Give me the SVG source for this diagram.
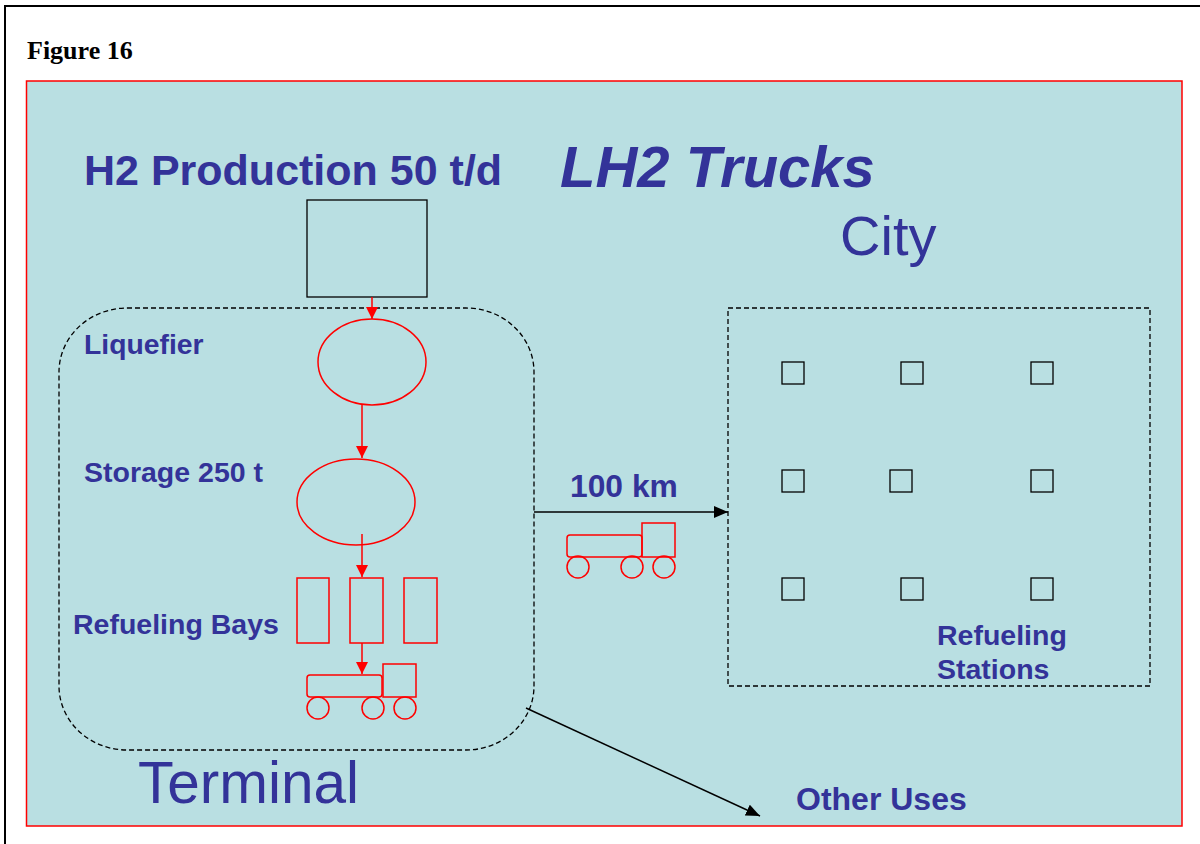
<svg xmlns="http://www.w3.org/2000/svg" width="1200" height="844" viewBox="0 0 1200 844">
<defs>
<style>
.lbl{font-family:"Liberation Sans",Arial,sans-serif;font-weight:bold;fill:#333399}
.big{font-family:"Liberation Sans",Arial,sans-serif;fill:#333399}
.red{fill:none;stroke:#FF0000;stroke-width:1.5}
.sq{fill:none;stroke:#000;stroke-width:1.3}
.dash{fill:none;stroke:#000;stroke-width:1.3;stroke-dasharray:5,3}
</style>
<marker id="ar" viewBox="0 0 12 12" refX="12" refY="6" markerWidth="12" markerHeight="12" markerUnits="userSpaceOnUse" orient="auto">
<path d="M0,0 L12,6 L0,12 Z" fill="#FF0000"/>
</marker>
<marker id="ab" viewBox="0 0 14 12" refX="14" refY="6" markerWidth="14" markerHeight="12" markerUnits="userSpaceOnUse" orient="auto">
<path d="M0,0 L14,6 L0,12 Z" fill="#000"/>
</marker>
</defs>
<rect x="0" y="0" width="1200" height="844" fill="#fff"/>
<rect x="5" y="6" width="1210" height="860" fill="none" stroke="#000" stroke-width="2"/>
<text x="27" y="59" font-family="Liberation Serif,'Times New Roman',serif" font-weight="bold" font-size="26" fill="#000">Figure 16</text>
<rect x="26.5" y="81" width="1155.5" height="745" fill="#B9DFE2" stroke="#FF0000" stroke-width="1.5"/>

<text class="lbl" x="84" y="185" font-size="43">H2 Production 50 t/d</text>
<text class="lbl" x="560" y="187" font-size="58" font-style="italic">LH2 Trucks</text>
<text class="big" x="840" y="255" font-size="56">City</text>

<g id="terminal">
<rect class="dash" x="59" y="308" width="475" height="442" rx="68" ry="64"/>
<text class="big" x="138" y="803" font-size="58.5">Terminal</text>
</g>

<g id="production">
<rect class="sq" x="307" y="200" width="120" height="97"/>
</g>
<g id="liquefier">
<ellipse class="red" cx="372" cy="362" rx="54" ry="43"/>
<text class="lbl" x="84" y="354" font-size="28.3">Liquefier</text>
</g>
<g id="storage">
<ellipse class="red" cx="356" cy="502" rx="59" ry="43"/>
<text class="lbl" x="84" y="482" font-size="28.5">Storage 250 t</text>
</g>
<g id="bays">
<rect class="red" x="297" y="578" width="32" height="65"/>
<rect class="red" x="350" y="578" width="33" height="65"/>
<rect class="red" x="404" y="578" width="33" height="65"/>
<text class="lbl" x="73" y="634" font-size="28.5">Refueling Bays</text>
</g>
<g id="truck1">
<rect class="red" x="307" y="675" width="75" height="22" rx="3"/>
<rect class="red" x="383" y="664" width="33" height="33"/>
<circle class="red" cx="318" cy="708" r="11"/>
<circle class="red" cx="373" cy="708" r="11"/>
<circle class="red" cx="405" cy="708" r="11"/>
</g>
<g id="truck2">
<rect class="red" x="567" y="535" width="75" height="22" rx="3"/>
<rect class="red" x="642" y="523" width="33" height="34"/>
<circle class="red" cx="578" cy="567" r="11"/>
<circle class="red" cx="632" cy="567" r="11"/>
<circle class="red" cx="664" cy="567" r="11"/>
</g>

<g id="city">
<rect class="dash" x="728" y="308" width="422" height="378"/>
<rect class="sq" x="782" y="362" width="22" height="22"/>
<rect class="sq" x="901" y="362" width="22" height="22"/>
<rect class="sq" x="1031" y="362" width="22" height="22"/>
<rect class="sq" x="782" y="470" width="22" height="22"/>
<rect class="sq" x="890" y="470" width="22" height="22"/>
<rect class="sq" x="1031" y="470" width="22" height="22"/>
<rect class="sq" x="782" y="578" width="22" height="22"/>
<rect class="sq" x="901" y="578" width="22" height="22"/>
<rect class="sq" x="1031" y="578" width="22" height="22"/>
<text class="lbl" x="937" y="645" font-size="28.5">Refueling</text>
<text class="lbl" x="937" y="679" font-size="28.5">Stations</text>
</g>

<g id="other">
<text class="lbl" x="796" y="810" font-size="32">Other Uses</text>
</g>

<g id="connectors">
<line x1="372" y1="297" x2="372" y2="319" stroke="#FF0000" stroke-width="1.5" marker-end="url(#ar)"/>
<line x1="362" y1="405" x2="362" y2="458" stroke="#FF0000" stroke-width="1.5" marker-end="url(#ar)"/>
<line x1="362" y1="534" x2="362" y2="577" stroke="#FF0000" stroke-width="1.5" marker-end="url(#ar)"/>
<line x1="362" y1="643" x2="362" y2="674" stroke="#FF0000" stroke-width="1.5" marker-end="url(#ar)"/>
<line x1="534" y1="512" x2="728" y2="512" stroke="#000" stroke-width="1.5" marker-end="url(#ab)"/>
<text class="lbl" x="570" y="497" font-size="31.8">100 km</text>
<line x1="526" y1="708" x2="760" y2="816" stroke="#000" stroke-width="1.5" marker-end="url(#ab)"/>
</g>
</svg>
